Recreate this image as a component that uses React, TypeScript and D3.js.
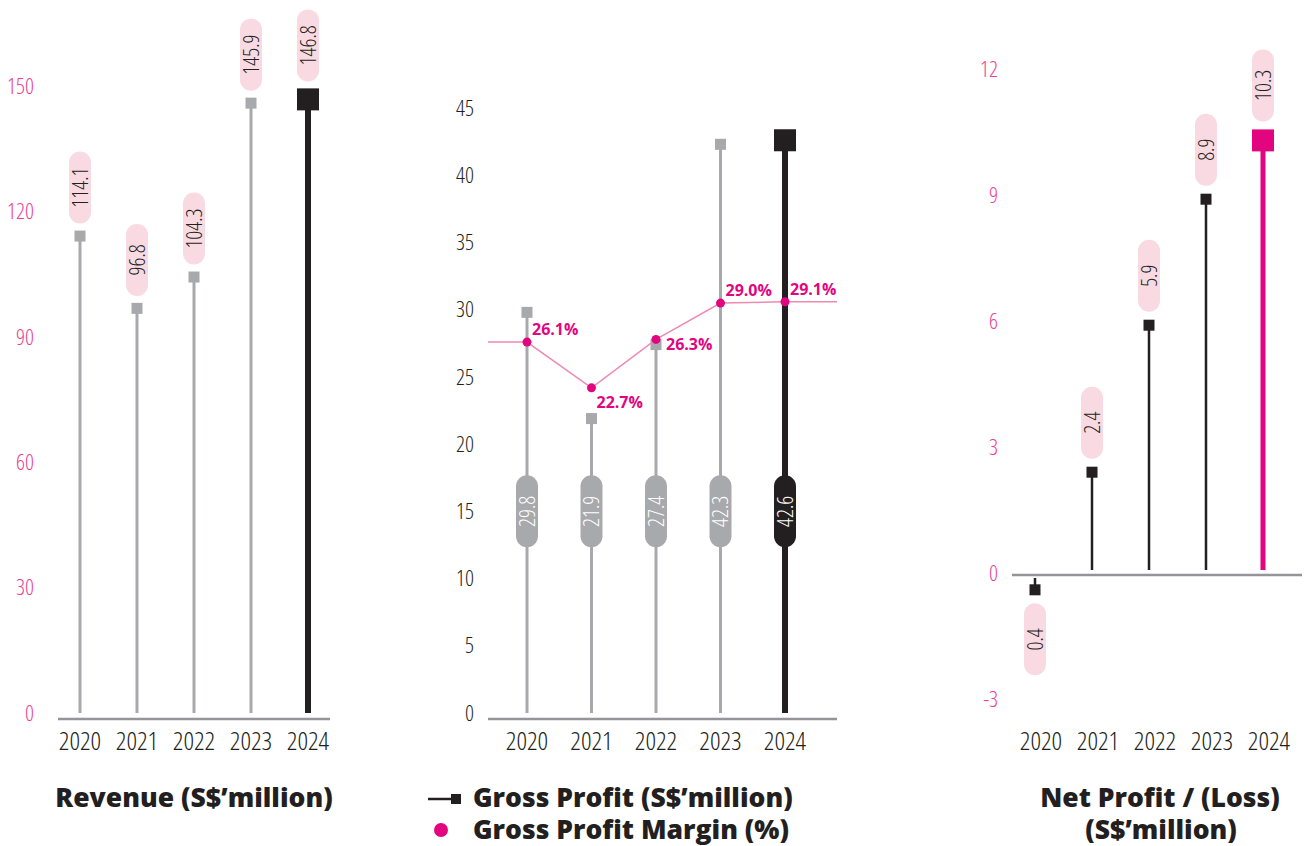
import { useEffect, useRef } from "react";
import * as d3 from "d3";

const years = ["2020", "2021", "2022", "2023", "2024"];
const revenue = [114.1, 96.8, 104.3, 145.9, 146.8];
const grossProfit = [29.8, 21.9, 27.4, 42.3, 42.6];
const grossMargin = [26.1, 22.7, 26.3, 29.0, 29.1];
const netProfit = [-0.4, 2.4, 5.9, 8.9, 10.3];

const revenueTicks = [0, 30, 60, 90, 120, 150];
const gpTicks = [0, 5, 10, 15, 20, 25, 30, 35, 40, 45];
const npTicks = [-3, 0, 3, 6, 9, 12];

// where each margin label sits relative to its dot
const marginLabelPlace = ["above", "below", "right", "above", "above"];

const PINK = "#e2057f";
const TICK_PINK = "#ec3f93";
const PILL_PINK = "#f9dae2";
const GREY = "#a7a9ac";
const BLACK = "#231f20";
const AXIS = "#939598";
const LIGHT = "'Open Sans', sans-serif";

export default function App() {
  const svgRef = useRef<SVGSVGElement | null>(null);

  useEffect(() => {
    if (!svgRef.current) return;
    const svg = d3.select(svgRef.current);
    svg.selectAll("*").remove();

    const tickText = (
      g: d3.Selection<SVGGElement, unknown, null, undefined>,
      ticks: number[],
      y: d3.ScaleLinear<number, number>,
      x: number,
      color: string
    ) => {
      g.selectAll(null)
        .data(ticks)
        .enter()
        .append("text")
        .attr("x", x)
        .attr("y", (d) => y(d))
        .attr("dy", "0.35em")
        .attr("text-anchor", "end")
        .attr("font-family", LIGHT)
        .attr("font-weight", 300)
        .attr("font-stretch", "75%")
        .attr("font-size", 22)
        .attr("fill", color)
        .text((d) => d);
    };

    const yearText = (
      g: d3.Selection<SVGGElement, unknown, null, undefined>,
      x: d3.ScalePoint<string>,
      dx = 0
    ) => {
      g.selectAll(null)
        .data(years)
        .enter()
        .append("text")
        .attr("x", (d) => (x(d) ?? 0) + dx)
        .attr("y", 750)
        .attr("text-anchor", "middle")
        .attr("font-family", LIGHT)
        .attr("font-weight", 300)
        .attr("font-stretch", "75%")
        .attr("font-size", 26)
        .attr("fill", BLACK)
        .text((d) => d);
    };

    const pill = (
      g: d3.Selection<SVGGElement, unknown, null, undefined>,
      cx: number,
      cy: number,
      label: string,
      fill: string,
      color: string
    ) => {
      g.append("rect")
        .attr("x", cx - 11)
        .attr("y", cy - 36)
        .attr("width", 22)
        .attr("height", 72)
        .attr("rx", 11)
        .attr("fill", fill);
      g.append("text")
        .attr("transform", `translate(${cx},${cy}) rotate(-90)`)
        .attr("text-anchor", "middle")
        .attr("dy", "0.36em")
        .attr("font-family", LIGHT)
        .attr("font-weight", 300)
        .attr("font-stretch", "75%")
        .attr("font-size", 22)
        .attr("fill", color)
        .text(label);
    };

    // ---------- Revenue ----------
    const rx = d3.scalePoint<string>().domain(years).range([80, 308]);
    const ry = d3.scaleLinear().domain([0, 150]).range([713, 86]);
    const rev = svg.append("g");

    rev.append("line")
      .attr("x1", 58).attr("x2", 330)
      .attr("y1", ry(0) + 6).attr("y2", ry(0) + 6)
      .attr("stroke", AXIS).attr("stroke-width", 2.5);
    tickText(rev, revenueTicks, ry, 34, TICK_PINK);
    yearText(rev, rx);

    revenue.forEach((v, i) => {
      const last = i === revenue.length - 1;
      const x = rx(years[i]) ?? 0;
      const size = last ? 22 : 11;
      rev.append("line")
        .attr("x1", x).attr("x2", x)
        .attr("y1", ry(0)).attr("y2", ry(v))
        .attr("stroke", last ? BLACK : GREY)
        .attr("stroke-width", last ? 6 : 3);
      rev.append("rect")
        .attr("x", x - size / 2).attr("y", ry(v) - size / 2)
        .attr("width", size).attr("height", size)
        .attr("fill", last ? BLACK : GREY);
      pill(rev, x, ry(v) - size / 2 - 7 - 36, v.toFixed(1), PILL_PINK, BLACK);
    });

    // ---------- Gross profit ----------
    const gx = d3.scalePoint<string>().domain(years).range([527, 785]);
    const gy = d3.scaleLinear().domain([0, 45]).range([713, 108]);
    const my = d3.scaleLinear().domain([0, 45]).range([693, 88]);
    const gp = svg.append("g");

    gp.append("line")
      .attr("x1", 488).attr("x2", 837)
      .attr("y1", gy(0) + 6).attr("y2", gy(0) + 6)
      .attr("stroke", AXIS).attr("stroke-width", 2.5);
    tickText(gp, gpTicks, gy, 474, BLACK);
    yearText(gp, gx);

    grossProfit.forEach((v, i) => {
      const last = i === grossProfit.length - 1;
      const x = gx(years[i]) ?? 0;
      const size = last ? 22 : 11;
      gp.append("line")
        .attr("x1", x).attr("x2", x)
        .attr("y1", gy(0)).attr("y2", gy(v))
        .attr("stroke", last ? BLACK : GREY)
        .attr("stroke-width", last ? 6 : 3);
      gp.append("rect")
        .attr("x", x - size / 2).attr("y", gy(v) - size / 2)
        .attr("width", size).attr("height", size)
        .attr("fill", last ? BLACK : GREY);
      pill(gp, x, gy(15), v.toFixed(1), last ? BLACK : GREY, "#ffffff");
    });

    // margin line, running flat past the first and last year
    const pts: [number, number][] = grossMargin.map((m, i) => [
      gx(years[i]) ?? 0,
      my(m),
    ]);
    const linePts: [number, number][] = [
      [488, pts[0][1]],
      ...pts,
      [837, pts[pts.length - 1][1]],
    ];
    gp.append("path")
      .attr("d", d3.line()(linePts) ?? "")
      .attr("fill", "none")
      .attr("stroke", "#ee8ab4")
      .attr("stroke-width", 1.5);
    gp.selectAll(null)
      .data(pts)
      .enter()
      .append("circle")
      .attr("cx", (d) => d[0])
      .attr("cy", (d) => d[1])
      .attr("r", 4.5)
      .attr("fill", PINK);
    gp.selectAll(null)
      .data(pts)
      .enter()
      .append("text")
      .attr("x", (d, i) => d[0] + (marginLabelPlace[i] === "right" ? 10 : 5))
      .attr("y", (d, i) =>
        marginLabelPlace[i] === "above"
          ? d[1] - 7
          : marginLabelPlace[i] === "below"
          ? d[1] + 20
          : d[1] + 11
      )
      .attr("font-family", "'Open Sans', sans-serif")
      .attr("font-weight", 700)
      .attr("font-size", 16)
      .attr("fill", PINK)
      .text((_, i) => `${grossMargin[i].toFixed(1)}%`);

    // ---------- Net profit ----------
    const nx = d3.scalePoint<string>().domain(years).range([1035, 1263]);
    const ny = d3.scaleLinear().domain([-3, 12]).range([699, 69]);
    const np = svg.append("g");

    np.append("line")
      .attr("x1", 1012).attr("x2", 1302)
      .attr("y1", ny(0) + 2).attr("y2", ny(0) + 2)
      .attr("stroke", AXIS).attr("stroke-width", 2.5);
    tickText(np, npTicks, ny, 998, TICK_PINK);
    yearText(np, nx, 6);

    netProfit.forEach((v, i) => {
      const last = i === netProfit.length - 1;
      const x = nx(years[i]) ?? 0;
      const size = last ? 22 : 11;
      const color = last ? PINK : BLACK;
      np.append("line")
        .attr("x1", x).attr("x2", x)
        .attr("y1", v < 0 ? ny(0) + 5 : ny(0) - 3)
        .attr("y2", ny(v))
        .attr("stroke", color)
        .attr("stroke-width", last ? 5 : 2.5);
      np.append("rect")
        .attr("x", x - size / 2).attr("y", ny(v) - size / 2)
        .attr("width", size).attr("height", size)
        .attr("fill", color);
      const cy =
        v < 0 ? ny(v) + size / 2 + 8 + 36 : ny(v) - size / 2 - 8 - 36;
      pill(np, x, cy, Math.abs(v).toFixed(1), PILL_PINK, BLACK);
    });

    // ---------- Titles and legend ----------
    const title = (x: number, y: number, t: string, anchor = "middle") =>
      svg.append("text")
        .attr("x", x).attr("y", y)
        .attr("text-anchor", anchor)
        .attr("font-family", "'Open Sans', sans-serif")
        .attr("font-weight", 800)
        .attr("font-size", 26.5)
        .attr("fill", BLACK)
        .text(t);

    title(194, 807, "Revenue (S$\u2019million)");
    title(473, 807, "Gross Profit (S$\u2019million)", "start");
    title(473, 839, "Gross Profit Margin (%)", "start");
    title(1160, 807, "Net Profit / (Loss)");
    title(1161, 839, "(S$\u2019million)");

    svg.append("line")
      .attr("x1", 428).attr("x2", 455)
      .attr("y1", 799).attr("y2", 799)
      .attr("stroke", BLACK).attr("stroke-width", 2.5);
    svg.append("rect")
      .attr("x", 451).attr("y", 794)
      .attr("width", 10).attr("height", 10)
      .attr("fill", BLACK);
    svg.append("circle")
      .attr("cx", 441).attr("cy", 830)
      .attr("r", 7)
      .attr("fill", PINK);
  }, []);

  return (
    <svg
      ref={svgRef}
      width={1305}
      height={846}
      style={{ position: "absolute", left: 0, top: 0, background: "#fff" }}
    />
  );
}
